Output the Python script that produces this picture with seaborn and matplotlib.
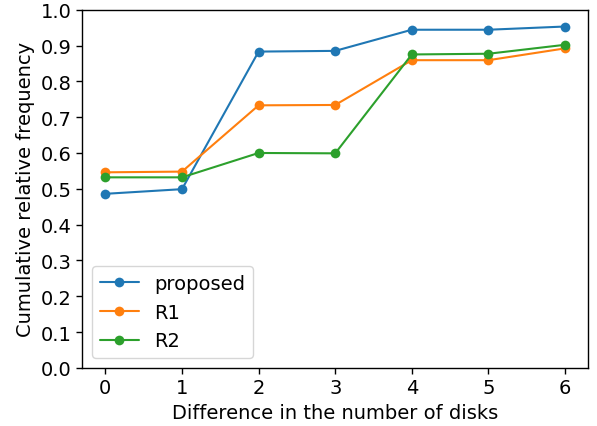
import matplotlib
matplotlib.use("Agg")
import matplotlib.pyplot as plt
import pandas as pd
import seaborn as sns

# Cumulative relative frequency per difference in the number of disks
diffs = [0, 1, 2, 3, 4, 5, 6]
proposed = [0.486, 0.499, 0.883, 0.885, 0.944, 0.944, 0.953]
r1 = [0.546, 0.548, 0.733, 0.734, 0.859, 0.859, 0.892]
r2 = [0.532, 0.532, 0.600, 0.599, 0.875, 0.877, 0.902]
methods = ["proposed", "R1", "R2"]

sns.set_style("white")
plt.rcParams["font.family"] = ["DejaVu Sans"]
plt.rcParams["font.size"] = 14
for k in ["text.color", "axes.labelcolor", "xtick.color", "ytick.color"]:
    plt.rcParams[k] = "black"

df = pd.concat(
    [
        pd.DataFrame({"diff": diffs, "freq": vals, "method": name})
        for name, vals in zip(methods, [proposed, r1, r2])
    ],
    ignore_index=True,
)

fig, ax = plt.subplots(figsize=(5.97, 4.27), dpi=100)
sns.lineplot(
    data=df,
    x="diff",
    y="freq",
    hue="method",
    hue_order=methods,
    palette=["#1f77b4", "#ff7f0e", "#2ca02c"],
    marker="o",
    markersize=7,
    markeredgewidth=0,
    linewidth=1.5,
    ax=ax,
)
ax.set_ylim(0, 1.0)
ax.set_yticks([i / 10 for i in range(11)])
ax.set_xticks(diffs)
ax.tick_params(labelsize=14, length=4, width=1, left=True, bottom=True)
for s in ax.spines.values():
    s.set_color("black")
    s.set_linewidth(1)
ax.set_xlabel("Difference in the number of disks", fontsize=14)
ax.set_ylabel("Cumulative relative frequency", fontsize=14)
ax.legend(loc="lower left", fontsize=14, title=None)

fig.subplots_adjust(left=0.138, right=0.985, top=0.975, bottom=0.136)
fig.savefig("out.png", dpi=100)
